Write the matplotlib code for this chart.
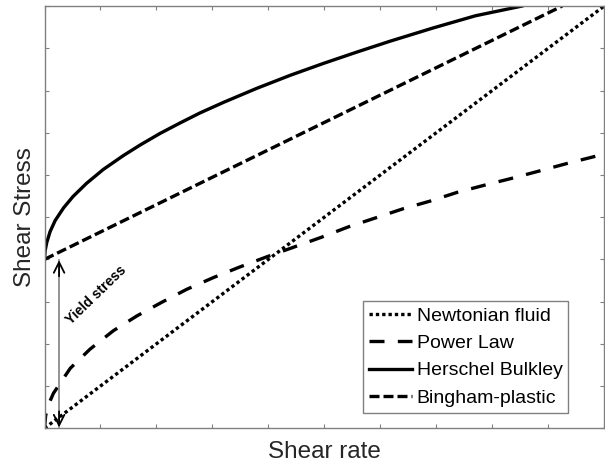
import matplotlib
matplotlib.use("Agg")
import matplotlib.pyplot as plt

plt.rcParams['font.family'] = ['Liberation Sans', 'DejaVu Sans']

# values (axes run 0..10 both ways)
newton_x = [0, 10]
newton_y = [0, 10]

power_x = [0, 0.02, 0.07, 0.16, 0.46, 0.81, 1.23, 1.65, 2.09, 2.54, 3.02, 3.49, 3.97,
           4.94, 5.43, 5.91, 6.41, 6.89, 7.38, 7.87, 8.38, 8.86, 9.36, 9.87, 10.0]
power_y = [0, 0.30, 0.56, 0.83, 1.42, 1.87, 2.31, 2.66, 2.98, 3.29, 3.57, 3.82, 4.06,
           4.52, 4.77, 4.98, 5.20, 5.38, 5.59, 5.76, 5.93, 6.10, 6.28, 6.45, 6.48]

hb_x = [0, 0.01, 0.04, 0.10, 0.19, 0.34, 0.51, 0.75, 1.05, 1.41, 1.71, 2.06, 2.42,
        2.78, 3.20, 3.79, 4.39, 4.98, 5.58, 6.18, 6.94, 7.70, 8.53]
hb_y = [4.0, 4.2, 4.40, 4.66, 4.92, 5.22, 5.49, 5.80, 6.13, 6.46, 6.71, 6.98, 7.23,
        7.47, 7.72, 8.05, 8.36, 8.64, 8.91, 9.17, 9.48, 9.77, 10.0]

bingham_x = [0, 9.25]
bingham_y = [4.0, 10.0]

labels = ['Newtonian fluid', 'Power Law', 'Herschel Bulkley', 'Bingham-plastic']

yield_x = 0.26
yield_top = 4.0

fig = plt.figure(figsize=(6.05, 4.67), dpi=100)
ax = fig.add_axes([0.0736, 0.083, 0.925, 0.904])

lw = 2.4
ax.plot(newton_x, newton_y, color='black', lw=lw, linestyle=(0, (1, 0.9)), label=labels[0])
ax.plot(power_x, power_y, color='black', lw=lw, linestyle=(0, (4.5, 4)), label=labels[1])
ax.plot(hb_x, hb_y, color='black', lw=lw, linestyle='-', label=labels[2])
ax.plot(bingham_x, bingham_y, color='black', lw=lw, linestyle=(0, (3, 1.2)), label=labels[3])

# yield stress arrow: gray shaft, black heads
ax.plot([yield_x, yield_x], [0.02, yield_top - 0.02], color='#808080', lw=1.2)
ax.annotate('', xy=(yield_x, yield_top - 0.02), xytext=(yield_x, yield_top - 0.4),
            arrowprops=dict(arrowstyle='->', color='black', lw=1.3, mutation_scale=19,
                            shrinkA=0, shrinkB=0))
ax.annotate('', xy=(yield_x, 0.02), xytext=(yield_x, 0.4),
            arrowprops=dict(arrowstyle='->', color='black', lw=1.3, mutation_scale=19,
                            shrinkA=0, shrinkB=0))
ax.text(0.93, 3.15, 'Yield stress', rotation=44, rotation_mode='anchor',
        ha='center', va='center', fontsize=10, fontweight='bold')

ax.set_xlim(0, 10)
ax.set_ylim(0, 10)
ax.set_xticks(range(0, 11))
ax.set_yticks(range(0, 11))
ax.set_xticklabels([])
ax.set_yticklabels([])
ax.tick_params(direction='in', length=3, width=0.8, color='#808080',
               top=True, right=True)
for s in ax.spines.values():
    s.set_color('#808080')
    s.set_linewidth(1.0)

ax.set_xlabel('Shear rate', fontsize=17.5, color='#262626', labelpad=6)
ax.set_ylabel('Shear Stress', fontsize=17.5, color='#262626', labelpad=2.5)

leg = ax.legend(loc='lower right', bbox_to_anchor=(0.936, 0.037), borderaxespad=0,
                fontsize=14, handlelength=2.2, handletextpad=0.25,
                labelspacing=0.5, borderpad=0.3, fancybox=False, framealpha=1)
leg.get_frame().set_edgecolor('#808080')
leg.get_frame().set_linewidth(1.0)

fig.savefig('out.png', dpi=100)
